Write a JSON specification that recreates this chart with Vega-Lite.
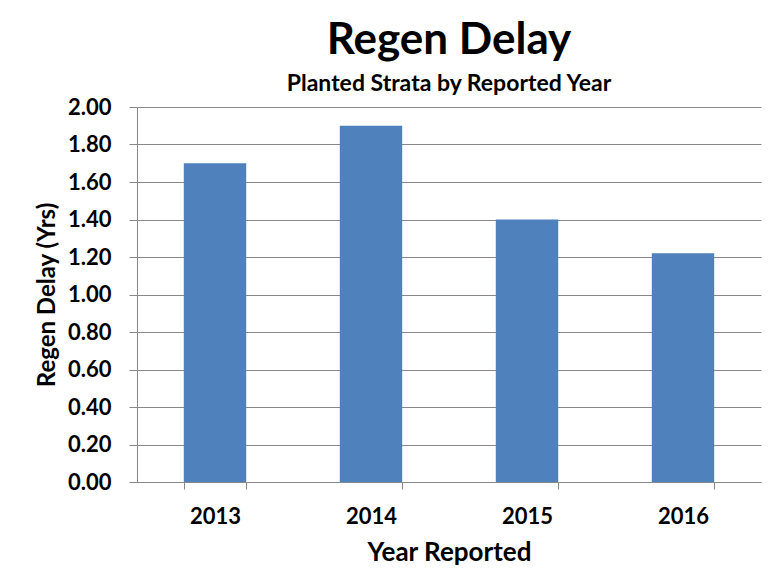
{
  "$schema": "https://vega.github.io/schema/vega-lite/v6.json",
  "autosize": "none",
  "width": 624,
  "height": 375,
  "padding": {"left": 137, "top": 107, "right": 15, "bottom": 98},
  "background": "white",
  "title": {
    "text": "Regen Delay",
    "subtitle": "Planted Strata by Reported Year",
    "font": "Lato",
    "fontSize": 44,
    "fontWeight": "bold",
    "color": "black",
    "subtitleFont": "Lato",
    "subtitleFontSize": 23,
    "subtitleFontWeight": "bold",
    "subtitleColor": "black",
    "subtitlePadding": 10,
    "offset": 0,
    "anchor": "middle"
  },
  "data": {
    "values": [
      {"year": "2013", "delay": 1.70},
      {"year": "2014", "delay": 1.90},
      {"year": "2015", "delay": 1.40},
      {"year": "2016", "delay": 1.22}
    ]
  },
  "mark": {"type": "bar", "color": "#4F81BD"},
  "encoding": {
    "x": {
      "field": "year",
      "type": "ordinal",
      "scale": {"paddingInner": 0.6, "paddingOuter": 0.3},
      "axis": {
        "title": "Year Reported",
        "labelAngle": 0,
        "tickBand": "extent",
        "labelFont": "Lato",
        "labelFontSize": 22,
        "labelFontWeight": "bold",
        "labelColor": "black",
        "labelPadding": 17,
        "titleFont": "Lato",
        "titleFontSize": 26,
        "titleFontWeight": "bold",
        "titleColor": "black",
        "titlePadding": 12,
        "domainColor": "#888888",
        "tickColor": "#888888",
        "tickSize": 7
      }
    },
    "y": {
      "field": "delay",
      "type": "quantitative",
      "scale": {"domain": [0, 2]},
      "axis": {
        "title": "Regen Delay (Yrs)",
        "values": [0, 0.2, 0.4, 0.6, 0.8, 1.0, 1.2, 1.4, 1.6, 1.8, 2.0],
        "format": ".2f",
        "labelFont": "Lato",
        "labelFontSize": 22,
        "labelFontWeight": "bold",
        "labelColor": "black",
        "labelPadding": 18,
        "titleFont": "Lato",
        "titleFontSize": 24,
        "titleFontWeight": "bold",
        "titleColor": "black",
        "titlePadding": 8,
        "grid": true,
        "gridColor": "#888888",
        "gridWidth": 1,
        "domainColor": "#888888",
        "tickColor": "#888888",
        "tickSize": 8
      }
    }
  },
  "config": {"view": {"stroke": null}}
}
